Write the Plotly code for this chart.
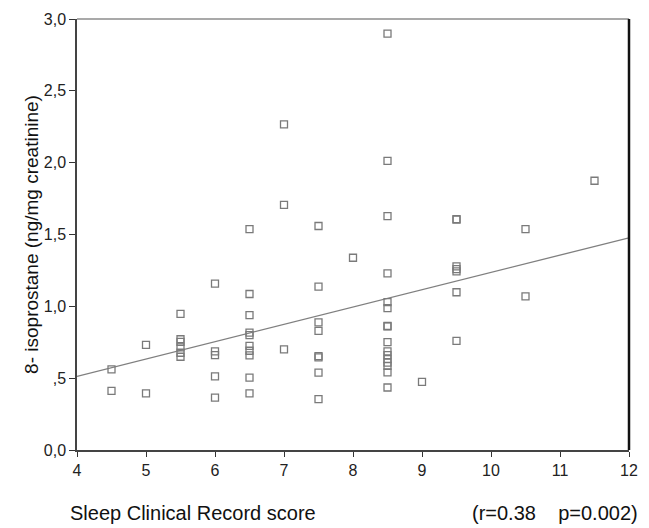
import plotly.graph_objects as go

# Sleep Clinical Record score (x) and 8-isoprostane (y)
scr = (
    [4.5] * 2 + [5.0] * 2 + [5.5] * 6 + [6.0] * 5 + [6.5] * 10 + [7.0] * 3 +
    [7.5] * 8 + [8.0] * 1 + [8.5] * 16 + [9.0] * 1 + [9.5] * 7 + [10.5] * 2 + [11.5] * 1
)
isop = (
    [0.561, 0.412] +
    [0.732, 0.394] +
    [0.948, 0.771, 0.753, 0.714, 0.677, 0.649] +
    [1.158, 0.686, 0.661, 0.513, 0.364] +
    [1.538, 1.086, 0.939, 0.817, 0.799, 0.725, 0.691, 0.658, 0.504, 0.394] +
    [2.267, 1.706, 0.700] +
    [1.559, 1.137, 0.889, 0.829, 0.654, 0.645, 0.539, 0.354] +
    [1.338] +
    [2.898, 2.012, 1.628, 1.229, 1.029, 0.988, 0.863, 0.860, 0.751, 0.686, 0.661,
     0.633, 0.608, 0.585, 0.541, 0.435] +
    [0.474] +
    [1.607, 1.603, 1.278, 1.259, 1.243, 1.098, 0.760] +
    [1.538, 1.070] +
    [1.874]
)

# Reported linear fit
fit_intercept = 0.030
fit_slope = 0.1206

x_ticks = [4, 5, 6, 7, 8, 9, 10, 11, 12]
y_ticks = [0.0, 0.5, 1.0, 1.5, 2.0, 2.5, 3.0]
y_tick_labels = ["0,0", ",5", "1,0", "1,5", "2,0", "2,5", "3,0"]

fit_x = [x_ticks[0], x_ticks[-1]]
fit_y = [fit_intercept + fit_slope * v for v in fit_x]

fig = go.Figure()
fig.add_trace(go.Scatter(
    x=fit_x, y=fit_y, mode="lines",
    line=dict(color="#7f7f7f", width=1.3), hoverinfo="skip", showlegend=False,
))
fig.add_trace(go.Scatter(
    x=scr, y=isop, mode="markers",
    marker=dict(symbol="square-open", size=7, color="#7a7a7a", line=dict(width=1.3)),
    showlegend=False,
))

font = "Liberation Sans, Arial, sans-serif"
fig.update_layout(
    width=649, height=528,
    margin=dict(l=77, r=11, t=16, b=78),
    paper_bgcolor="white", plot_bgcolor="white",
    font=dict(family=font, size=16, color="#222222"),
    xaxis=dict(
        range=[4, 12], tickvals=x_ticks, ticks="outside", ticklen=5,
        tickcolor="#333333", showgrid=False, zeroline=False,
        showline=True, linecolor="#444444", linewidth=1.5, mirror=False,
        tickfont=dict(size=16),
    ),
    yaxis=dict(
        range=[0, 3], tickvals=y_ticks, ticktext=y_tick_labels, ticks="outside",
        ticklen=6, tickcolor="#333333", showgrid=False, zeroline=False,
        showline=True, linecolor="#444444", linewidth=1.5,
        tickfont=dict(size=16),
        title=dict(text="8- isoprostane (ng/mg creatinine)", font=dict(size=19, color="#111111"), standoff=0),
    ),
    shapes=[
        dict(type="line", xref="paper", yref="paper", x0=0, x1=1, y0=1, y1=1,
             line=dict(color="#555555", width=1.2)),
        dict(type="line", xref="paper", yref="paper", x0=1, x1=1, y0=0, y1=1,
             line=dict(color="#111111", width=2.5)),
    ],
    annotations=[
        dict(text="Sleep Clinical Record score", xref="paper", yref="paper",
             x=-0.016, y=-0.115, xanchor="left", yanchor="top", showarrow=False,
             font=dict(size=20, color="#111111")),
        dict(text="(r=0.38    p=0.002)", xref="paper", yref="paper",
             x=1.02, y=-0.115, xanchor="right", yanchor="top", showarrow=False,
             font=dict(size=20, color="#111111")),
    ],
)

fig.write_html("out.html")
